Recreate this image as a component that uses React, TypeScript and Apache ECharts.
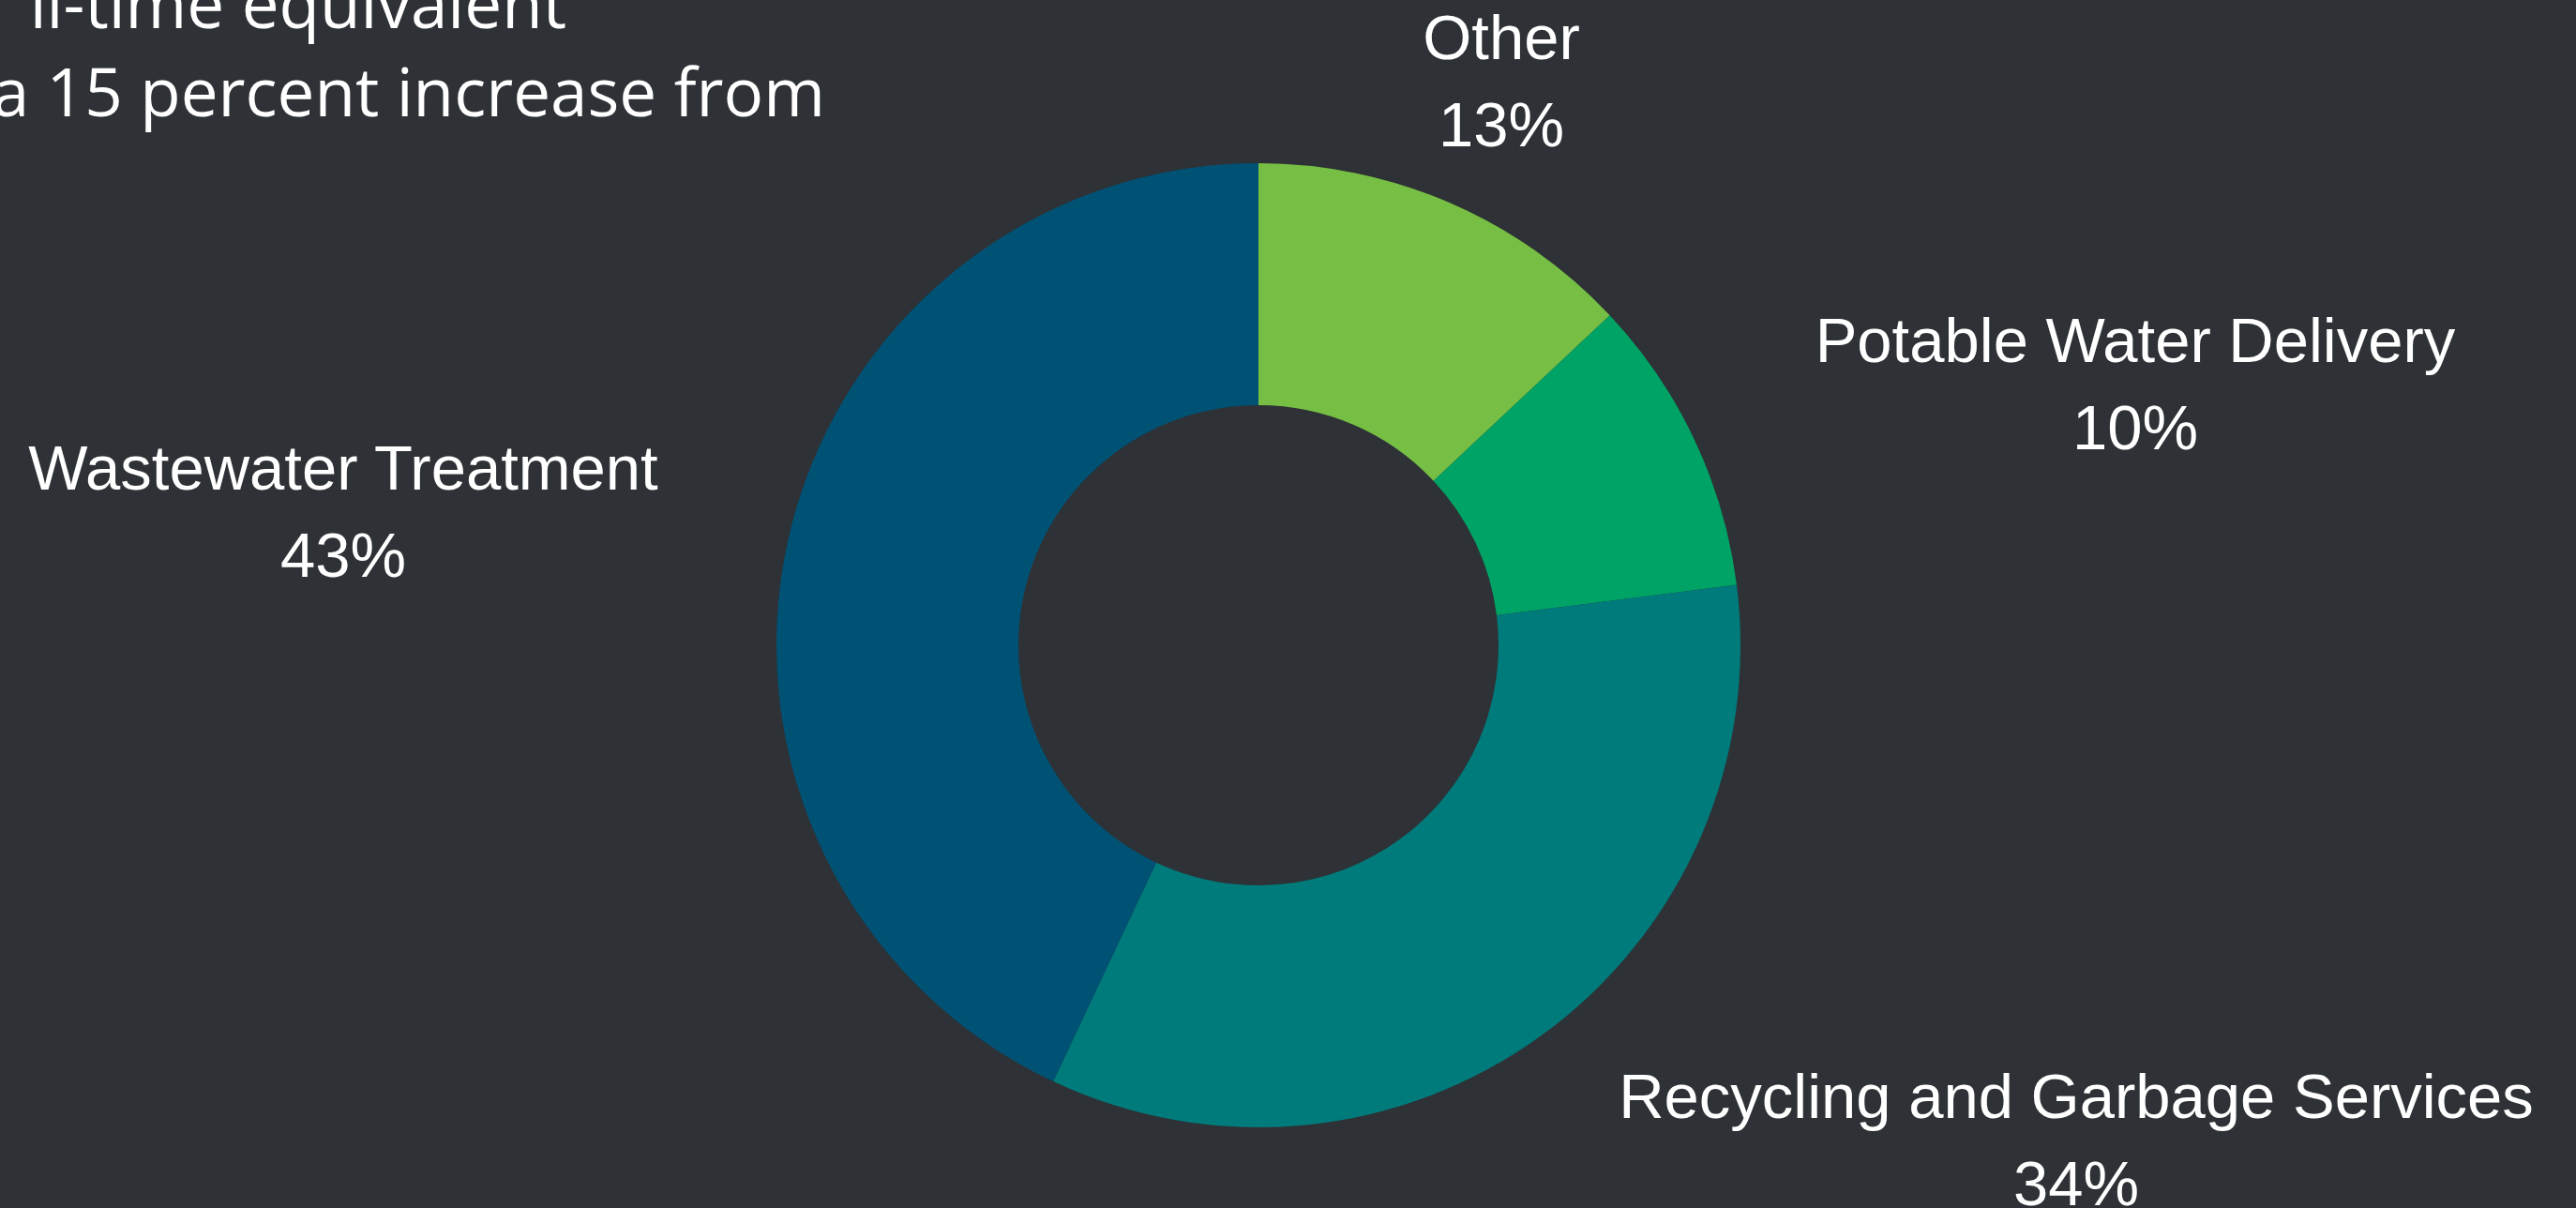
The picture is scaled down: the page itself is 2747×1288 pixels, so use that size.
import React, { useEffect, useRef } from "react";
import * as echarts from "echarts";

const categories = ["Other", "Potable Water Delivery", "Recycling and Garbage Services", "Wastewater Treatment"];
const shares = [13, 10, 34, 43];
const sliceColors = ["#76BF44", "#00A366", "#007B7B", "#005275"];
const introLines = ["ll-time equivalent", "a 15 percent increase from"];

// label block centres (layout only)
const labelSpots: [number, number][] = [
  [1601, 86],
  [2277, 409],
  [2214, 1215],
  [366, 545],
];

export default function App() {
  const ref = useRef<HTMLDivElement>(null);
  useEffect(() => {
    if (!ref.current) return;
    const chart = echarts.init(ref.current, null, { renderer: "svg" });
    chart.setOption({
      animation: false,
      backgroundColor: "#2E3135",
      graphic: [
        {
          type: "text",
          x: 604,
          y: 2,
          style: {
            text: introLines[0],
            fill: "#FFFFFF",
            font: "400 71px 'Open Sans'",
            textAlign: "right",
            textVerticalAlign: "middle",
          },
        },
        {
          type: "text",
          x: 880,
          y: 96,
          style: {
            text: introLines[1],
            fill: "#FFFFFF",
            font: "400 71px 'Open Sans'",
            textAlign: "right",
            textVerticalAlign: "middle",
          },
        },
      ],
      series: [
        {
          type: "pie",
          center: [1342, 688],
          radius: [256, 514],
          startAngle: 90,
          clockwise: true,
          avoidLabelOverlap: false,
          silent: true,
          emphasis: { disabled: true },
          itemStyle: { borderWidth: 0 },
          label: {
            show: true,
            position: "outside",
            formatter: "{b}\n{c}%",
            color: "#FFFFFF",
            fontFamily: "Liberation Sans",
            fontSize: 67,
            lineHeight: 93,
            align: "center",
          },
          labelLine: { show: false },
          labelLayout: (p: any) => {
            const s = labelSpots[p.dataIndex];
            return { x: s[0], y: s[1], align: "center", verticalAlign: "middle" };
          },
          data: categories.map((name, i) => ({
            name,
            value: shares[i],
            itemStyle: { color: sliceColors[i] },
          })),
        },
      ],
    });
    return () => chart.dispose();
  }, []);
  return (
    <div
      ref={ref}
      style={{ position: "fixed", left: 0, top: 0, width: 2747, height: 1288 }}
    />
  );
}
